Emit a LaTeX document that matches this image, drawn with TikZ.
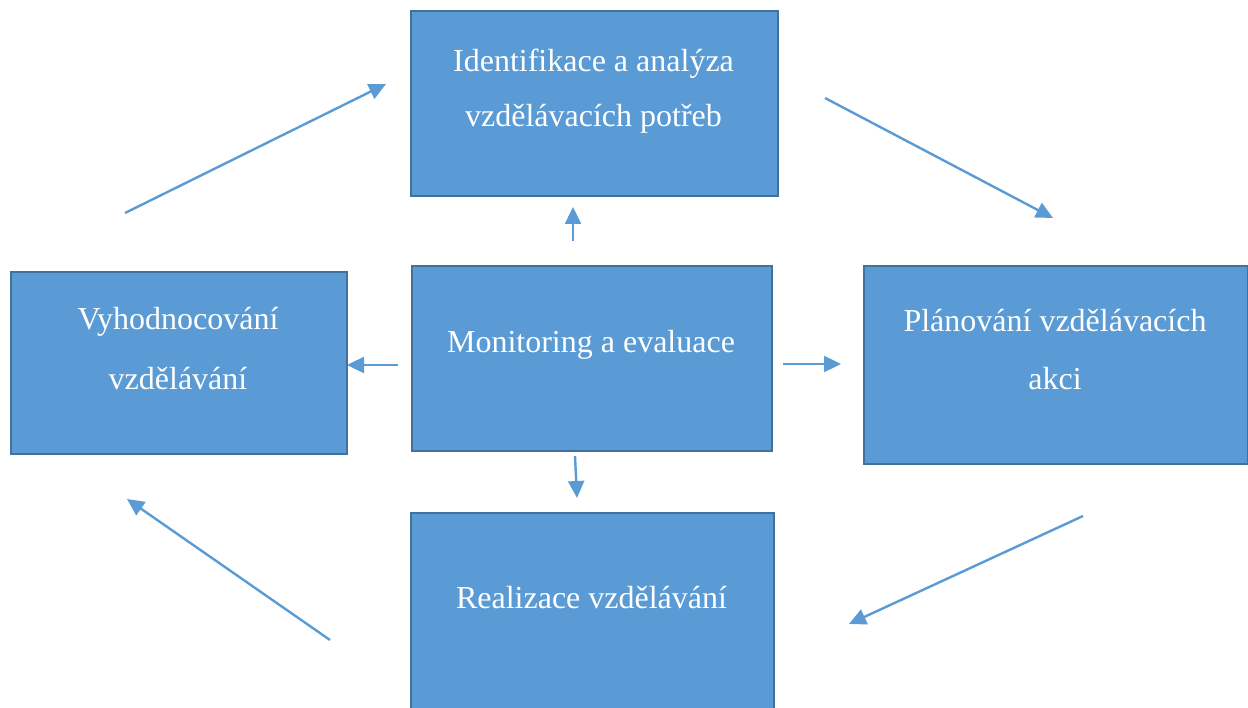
\documentclass[tikz,border=0pt]{standalone}
\usepackage{fontspec}
\setmainfont{Liberation Serif}
\usetikzlibrary{arrows.meta}
\definecolor{boxfill}{HTML}{5B9BD5}
\definecolor{boxline}{HTML}{41719C}
\definecolor{arrowc}{HTML}{5B9BD5}
\tikzset{
  box/.style={draw=boxline, line width=2pt, fill=boxfill, inner sep=0pt, anchor=north west},
  lbl/.style={text=white, font=\fontsize{32}{55}\selectfont, align=center, inner sep=0pt},
  conn/.style={draw=arrowc, line width=2.4pt, -{Triangle[length=17pt,width=16pt]}}
}
\begin{document}
\begin{tikzpicture}[x=1pt,y=-1pt]
\useasboundingbox (0,0) rectangle (1248,708);
\clip (0,0) rectangle (1248,708);
% boxes
\node[box, minimum width=367pt, minimum height=185pt] (top) at (410,10) {};
\node[box, minimum width=336pt, minimum height=182pt] (left) at (10,271) {};
\node[box, minimum width=360pt, minimum height=185pt] (mid) at (411,265) {};
\node[box, minimum width=384pt, minimum height=198pt] (right) at (863,265) {};
\node[box, minimum width=363pt, minimum height=215pt] (bot) at (410,512) {};
% texts
\node[lbl] (topT) at (593.5,91) {Identifikace a analýza\\vzdělávacích potřeb};
\node[lbl, font=\fontsize{32}{60}\selectfont] (leftT) at (178,349) {Vyhodnocování\\vzdělávání};
\node[lbl] (midT) at (591,345) {Monitoring a evaluace};
\node[lbl, font=\fontsize{32}{58}\selectfont] (rightT) at (1055,350) {Plánování vzdělávacích\\akci};
\node[lbl] (botT) at (591.5,598) {Realizace vzdělávání};
% arrow endpoints
\coordinate (a1s) at (573,241); \coordinate (a1e) at (573,207);
\coordinate (a2s) at (398,365); \coordinate (a2e) at (347,365);
\coordinate (a3s) at (783,364); \coordinate (a3e) at (841,364);
\coordinate (a4s) at (575,456); \coordinate (a4e) at (577,498);
\coordinate (d1s) at (125,213); \coordinate (d1e) at (386,84);
\coordinate (d2s) at (825,98);  \coordinate (d2e) at (1053,218);
\coordinate (d3s) at (1083,516); \coordinate (d3e) at (849,624);
\coordinate (d4s) at (330,640); \coordinate (d4e) at (127,499);
\foreach \n in {a1,a2,a3,a4,d1,d2,d3,d4}{\draw[conn] (\n s) -- (\n e);}
\end{tikzpicture}
\end{document}
